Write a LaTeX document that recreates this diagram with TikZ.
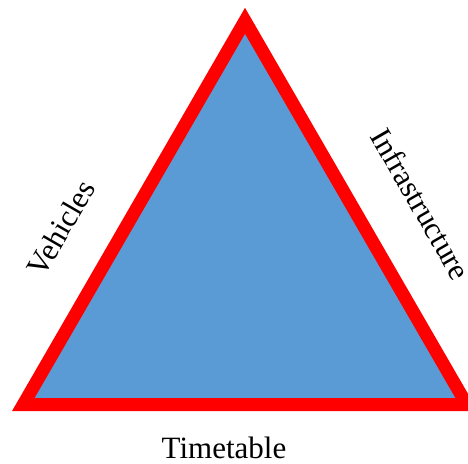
\documentclass[tikz,border=0pt]{standalone}
\usepackage{fontspec}
\setmainfont{Liberation Serif}
\definecolor{triblue}{RGB}{91,155,213}
\definecolor{trired}{RGB}{255,0,0}
\tikzset{
  tri/.style={draw=trired, fill=triblue, line width=13pt, line join=miter},
  lbl/.style={font=\fontsize{31}{37}\selectfont, inner sep=0pt, text=black}
}
\begin{document}
\begin{tikzpicture}[x=1pt,y=1pt]
\useasboundingbox (0,0) rectangle (468,463);
\clip (0,0) rectangle (468,463);
\coordinate (bl) at (23.3,58.5);
\coordinate (br) at (466.7,58.5);
\coordinate (top) at (245,442.2);
\draw[tri] (bl) -- (br) -- (top) -- cycle;
\node[lbl, anchor=base] (timetable) at (224,5) {Timetable};
\node[lbl, rotate=60] (vehicles) at (61,235) {Vehicles};
\node[lbl, rotate=-60] (infra) at (421,259) {Infrastructure};
\end{tikzpicture}
\end{document}
